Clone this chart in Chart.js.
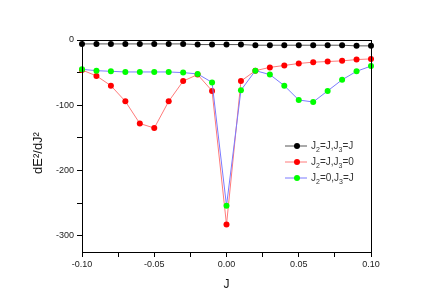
<!DOCTYPE html>
<html lang="en">
<head>
    <meta charset="UTF-8">
    <title>dE2/dJ2 vs J</title>
    <script src="https://cdn.jsdelivr.net/npm/chart.js"></script>
    <style>
        html, body { margin: 0; padding: 0; background: #fff; }
        #wrap { width: 436px; height: 308px; }
    </style>
</head>
<body>
<div id="wrap"><canvas id="chart" width="436" height="308"></canvas></div>

<script>
    // values
    const jValues = [-0.10, -0.09, -0.08, -0.07, -0.06, -0.05, -0.04, -0.03, -0.02, -0.01,
                     0.00, 0.01, 0.02, 0.03, 0.04, 0.05, 0.06, 0.07, 0.08, 0.09, 0.10];
    const seriesJJ = [-6, -6, -6, -6, -6, -6, -6, -6, -7, -7,
                      -7, -7, -8, -8, -8, -8, -8, -8, -8, -9, -9];
    const seriesJ0 = [-46, -55, -70, -94, -128, -135, -94, -63, -53, -78,
                      -283, -63, -47, -42, -39, -36, -34, -33, -32, -30, -29];
    const series0J = [-45, -47, -48, -49, -49, -49, -49, -50, -52, -65,
                      -254, -77, -47, -53, -70, -92, -95, -78, -61, -48, -40];
    const legendLabels = ['J2=J,J3=J', 'J2=J,J3=0', 'J2=0,J3=J'];
    const yTickLabels = [0, -100, -200, -300];
    const xTickLabels = [-0.10, -0.05, 0.00, 0.05, 0.10];
    const yTitle = 'dE²/dJ²';

    const FONT = "'Liberation Sans', Arial, sans-serif";

    function toPoints(ys) {
        return jValues.map((x, i) => ({ x: x, y: ys[i] }));
    }

    // legend with subscripts, y title, and the box round the plot
    const framePlugin = {
        id: 'frame',
        afterDatasetsDraw(chart) {
            const ctx = chart.ctx;
            const a = chart.chartArea;
            ctx.save();
            ctx.strokeStyle = '#000';
            ctx.lineWidth = 1;
            ctx.strokeRect(Math.round(a.left) + 0.5, Math.round(a.top) + 0.5,
                Math.round(a.right - a.left), Math.round(a.bottom - a.top));

            chart.data.datasets.forEach((ds, i) => {
                const y = 146 + i * 16;
                ctx.strokeStyle = ds.borderColor;
                ctx.beginPath();
                ctx.moveTo(285, y);
                ctx.lineTo(307, y);
                ctx.stroke();
                ctx.fillStyle = ds.pointBackgroundColor;
                ctx.beginPath();
                ctx.arc(297, y, 3, 0, Math.PI * 2);
                ctx.fill();

                let x = 311;
                const text = legendLabels[i];
                ctx.fillStyle = '#333';
                ctx.textBaseline = 'middle';
                ctx.textAlign = 'left';
                for (let k = 0; k < text.length; k++) {
                    const c = text[k];
                    const sub = /[0-9]/.test(c) && text[k - 1] === 'J';
                    ctx.font = (sub ? '7px ' : '10px ') + FONT;
                    ctx.fillText(c, x, sub ? y + 4 : y);
                    x += ctx.measureText(c).width;
                }
            });

            ctx.translate(38, 153);
            ctx.rotate(-Math.PI / 2);
            ctx.fillStyle = '#111';
            ctx.font = '13px ' + FONT;
            ctx.textAlign = 'center';
            ctx.textBaseline = 'middle';
            ctx.fillText(yTitle, 0, 0);
            ctx.restore();
        }
    };

    const ctx = document.getElementById('chart').getContext('2d');
    new Chart(ctx, {
        type: 'line',
        data: {
            datasets: [
                {
                    label: legendLabels[0],
                    data: toPoints(seriesJJ),
                    borderColor: '#555',
                    pointBackgroundColor: '#000',
                    pointBorderColor: '#000',
                    order: 3
                },
                {
                    label: legendLabels[1],
                    data: toPoints(seriesJ0),
                    borderColor: '#ff7a7a',
                    pointBackgroundColor: '#ff0000',
                    pointBorderColor: '#ff0000',
                    order: 2
                },
                {
                    label: legendLabels[2],
                    data: toPoints(series0J),
                    borderColor: '#7a7aff',
                    pointBackgroundColor: '#00ff00',
                    pointBorderColor: '#00ff00',
                    order: 1
                }
            ]
        },
        options: {
            responsive: false,
            animation: false,
            layout: { padding: { left: 0, right: 65, top: 40, bottom: 0 } },
            elements: {
                line: { borderWidth: 1, tension: 0 },
                point: { radius: 3, borderWidth: 0, hoverRadius: 3 }
            },
            datasets: { line: { clip: false } },
            plugins: {
                legend: { display: false },
                tooltip: { enabled: false }
            },
            scales: {
                x: {
                    type: 'linear',
                    min: -0.1,
                    max: 0.1,
                    afterFit: s => { s.height = 56; },
                    ticks: {
                        stepSize: 0.025,
                        autoSkip: false,
                        maxRotation: 0,
                        padding: 2,
                        color: '#222',
                        font: { family: FONT, size: 9 },
                        callback: v => {
                            const hit = xTickLabels.find(t => Math.abs(t - v) < 1e-6);
                            return hit === undefined ? '' : hit.toFixed(2);
                        }
                    },
                    grid: { drawOnChartArea: false, drawTicks: true, tickLength: 5, color: '#000' },
                    border: { display: true, color: '#000' },
                    title: {
                        display: true,
                        text: 'J',
                        color: '#111',
                        font: { family: FONT, size: 12 },
                        padding: { top: 0, bottom: 16 }
                    }
                },
                y: {
                    min: -325,
                    max: 0,
                    afterFit: s => { s.width = 82; },
                    afterBuildTicks: s => { s.ticks = s.ticks.filter(t => t.value % 50 === 0); },
                    ticks: {
                        stepSize: 50,
                        autoSkip: false,
                        padding: 3,
                        color: '#222',
                        font: { family: FONT, size: 9 },
                        callback: v => yTickLabels.includes(v) ? String(v) : ''
                    },
                    grid: { drawOnChartArea: false, drawTicks: true, tickLength: 5, color: '#000' },
                    border: { display: true, color: '#000' }
                }
            }
        },
        plugins: [framePlugin]
    });
</script>
</body>
</html>
